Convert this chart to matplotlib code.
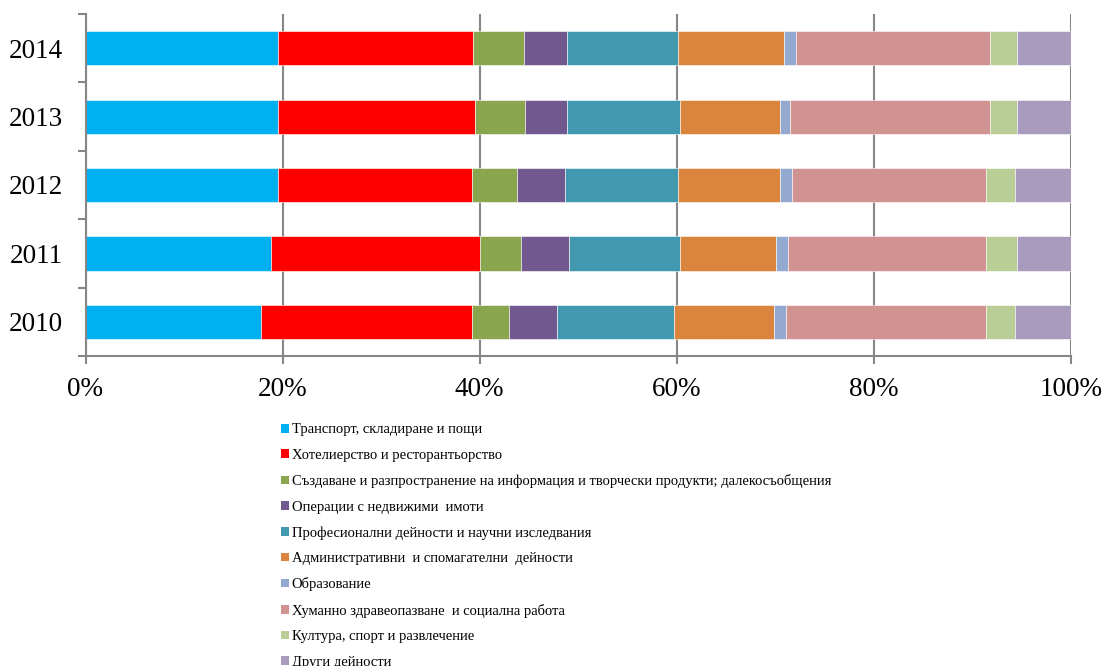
import matplotlib.pyplot as plt
from matplotlib.patches import Patch
import numpy as np

plt.rcParams['font.family'] = ['Liberation Serif', 'DejaVu Serif']

# Години (отдолу нагоре)
godini = ['2010', '2011', '2012', '2013', '2014']

# Дялове в % по години: 2010, 2011, 2012, 2013, 2014
transport = [17.8, 18.8, 19.5, 19.5, 19.5]
hoteli = [21.4, 21.2, 19.7, 20.05, 19.8]
informacia = [3.8, 4.2, 4.6, 5.05, 5.15]
imoti = [4.8, 4.9, 4.9, 4.3, 4.45]
profesionalni = [11.9, 11.2, 11.4, 11.4, 11.2]
administrativni = [10.2, 9.8, 10.4, 10.2, 10.8]
obrazovanie = [1.2, 1.2, 1.2, 1.0, 1.2]
zdraveopazvane = [20.3, 20.1, 19.7, 20.3, 19.7]
kultura = [2.9, 3.1, 2.9, 2.7, 2.7]
drugi = [5.7, 5.5, 5.7, 5.5, 5.5]

imena = ['Транспорт, складиране и пощи',
         'Хотелиерство и ресторантьорство',
         'Създаване и разпространение на информация и творчески продукти; далекосъобщения',
         'Операции с недвижими  имоти',
         'Професионални дейности и научни изследвания',
         'Административни  и спомагателни  дейности',
         'Образование',
         'Хуманно здравеопазване  и социална работа',
         'Култура, спорт и развлечение',
         'Други дейности']

x_ticks = [0, 20, 40, 60, 80, 100]
x_labels = ['0%', '20%', '40%', '60%', '80%', '100%']

serii = [transport, hoteli, informacia, imoti, profesionalni,
         administrativni, obrazovanie, zdraveopazvane, kultura, drugi]
cvetove = ['#00B0F0', '#FF0000', '#89A54E', '#71588F', '#4198AF',
           '#DB843D', '#93A9CF', '#D19392', '#B9CD96', '#A99BBD']

fig = plt.figure(figsize=(11.04, 6.66), dpi=100)
ax = fig.add_axes([85.5 / 1104, 1 - 356 / 666, (1071 - 85.5) / 1104, (356 - 14) / 666])

y = np.arange(len(godini))
left = np.zeros(len(godini))
for vals, c in zip(serii, cvetove):
    ax.barh(y, vals, left=left, height=0.5, color=c, edgecolor='white', linewidth=0.4, zorder=2)
    left += np.array(vals)

ax.set_xlim(0, 100)
ax.set_ylim(-0.5, len(godini) - 0.5)
ax.set_xticks(x_ticks)
ax.set_xticklabels(x_labels, fontsize=19.5)
ax.set_yticks(y)
ax.set_yticklabels(godini, fontsize=19.5)
ax.set_yticks(np.arange(-0.5, len(godini), 1), minor=True)

ax.tick_params(axis='y', which='major', length=0, pad=16)
ax.tick_params(axis='y', which='minor', length=5.8, width=1.5, color='#868686')
ax.tick_params(axis='x', length=5.8, width=1.5, color='#868686', pad=9)

ax.grid(axis='x', color='#868686', linewidth=1.5, zorder=0)
ax.set_axisbelow(True)

ax.spines['top'].set_visible(False)
ax.spines['right'].set_visible(False)
ax.spines['left'].set_color('#868686')
ax.spines['bottom'].set_color('#868686')
ax.spines['left'].set_linewidth(1.5)
ax.spines['bottom'].set_linewidth(1.5)

handles = [Patch(facecolor=c, edgecolor='none') for c in cvetove]
fig.legend(handles, imena, loc='upper left', bbox_to_anchor=(281 / 1104, 1 - 423.5 / 666),
           frameon=False, fontsize=10.5, handlelength=0.52, handleheight=0.52,
           handletextpad=0.2, labelspacing=0.85, borderpad=0, borderaxespad=0)

fig.savefig('out.png', dpi=100)
